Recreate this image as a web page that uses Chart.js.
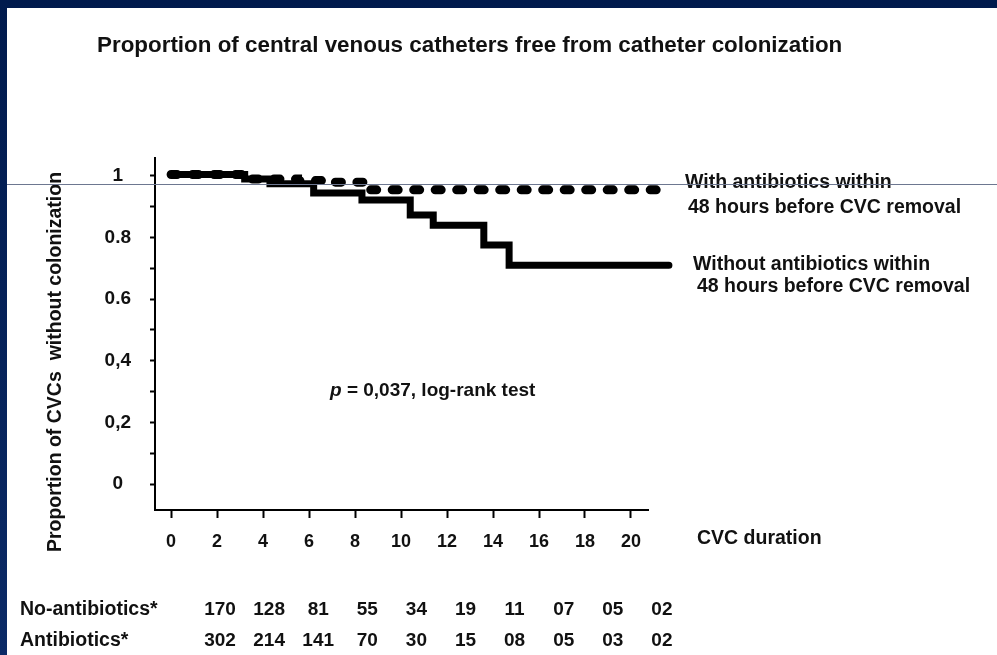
<!DOCTYPE html>
<html>
<head>
<meta charset="utf-8">
<script src="https://cdn.jsdelivr.net/npm/chart.js@4.4.1/dist/chart.umd.min.js"></script>
<style>
  html, body { margin: 0; padding: 0; }
  body { width: 997px; height: 655px; position: relative; overflow: hidden;
         background: linear-gradient(to bottom, #001a4d, #0b2a66); }
  #panel { position: absolute; left: 7px; top: 8px; right: 0; bottom: 0; background: #fff; }
  #guide { position: absolute; left: 7px; top: 184px; width: 990px; height: 1px; background: #6d7790; }
  #c { position: absolute; left: 0; top: 0; }
</style>
</head>
<body>
<div id="panel"></div>
<canvas id="c" width="997" height="655"></canvas>
<div id="guide"></div>
<script>
// Kaplan-Meier steps (days, proportion free of colonization)
const noAbxDays = [0, 3.2, 4.3, 6.2, 8.3, 10.4, 11.4, 13.6, 14.7, 21.65];
const noAbxSurv = [1.005, 0.99, 0.975, 0.945, 0.922, 0.873, 0.84, 0.776, 0.71, 0.71];
const abxDays = [0, 3.3, 5.5, 7.0, 8.5, 21.65];
const abxSurv = [1.005, 0.99, 0.985, 0.98, 0.955, 0.955];

const xTickValues = [0, 2, 4, 6, 8, 10, 12, 14, 16, 18, 20];
const yTickValues = [0, 0.1, 0.2, 0.3, 0.4, 0.5, 0.6, 0.7, 0.8, 0.9, 1];
const yTickLabels = ['0', '', '0,2', '', '0,4', '', '0.6', '', '0.8', '', '1'];

// numbers at risk
const riskRows = ['No-antibiotics*', 'Antibiotics*'];
const riskNoAbx = ['170', '128', '81', '55', '34', '19', '11', '07', '05', '02'];
const riskAbx = ['302', '214', '141', '70', '30', '15', '08', '05', '03', '02'];

const FONT = '"Liberation Sans", Arial, Helvetica, sans-serif';

const toPoints = (xs, ys) => xs.map((x, i) => ({ x: x, y: ys[i] }));

const textPlugin = {
    id: 'texts',
    afterDraw(chart) {
        const ctx = chart.ctx;
        ctx.save();
        ctx.fillStyle = '#111';
        ctx.textBaseline = 'alphabetic';

        // title
        ctx.font = 'bold 22.4px ' + FONT;
        ctx.textAlign = 'left';
        ctx.fillText('Proportion of central venous catheters free from catheter colonization', 97, 52);

        // curve labels
        ctx.font = 'bold 19.5px ' + FONT;
        ctx.fillText('With antibiotics within', 685, 188);
        ctx.fillText('48 hours before CVC removal', 688, 213);
        ctx.fillText('Without antibiotics within', 693, 270);
        ctx.fillText('48 hours before CVC removal', 697, 292);

        // x axis name
        ctx.fillText('CVC duration', 697, 544);

        // p value
        ctx.font = 'italic bold 19px ' + FONT;
        ctx.fillText('p', 330, 396);
        const pw = ctx.measureText('p').width;
        ctx.font = 'bold 19px ' + FONT;
        ctx.fillText(' = 0,037, log-rank test', 330 + pw, 396);

        // y axis name
        ctx.save();
        ctx.font = 'bold 19.5px ' + FONT;
        ctx.translate(61, 362);
        ctx.rotate(-Math.PI / 2);
        ctx.textAlign = 'center';
        ctx.fillText('Proportion of CVCs  without colonization', 0, 0);
        ctx.restore();

        // numbers at risk table
        ctx.font = 'bold 19.5px ' + FONT;
        ctx.textAlign = 'left';
        ctx.fillText(riskRows[0], 20, 615);
        ctx.fillText(riskRows[1], 20, 646);
        ctx.font = 'bold 19px ' + FONT;
        ctx.textAlign = 'center';
        riskNoAbx.forEach((v, i) => ctx.fillText(v, 220 + 49.1 * i, 615));
        riskAbx.forEach((v, i) => ctx.fillText(v, 220 + 49.1 * i, 646));
        ctx.restore();
    }
};

const ctx = document.getElementById('c').getContext('2d');
new Chart(ctx, {
    type: 'line',
    data: {
        datasets: [
            {
                label: 'With antibiotics within 48 hours before CVC removal',
                data: toPoints(abxDays, abxSurv),
                stepped: 'before',
                borderColor: '#000',
                borderWidth: 9,
                borderDash: [6, 15.5],
                borderCapStyle: 'round',
                pointRadius: 0,
                fill: false,
                clip: false
            },
            {
                label: 'Without antibiotics within 48 hours before CVC removal',
                data: toPoints(noAbxDays, noAbxSurv),
                stepped: 'before',
                borderColor: '#000',
                borderWidth: 7,
                borderCapStyle: 'round',
                pointRadius: 0,
                fill: false,
                clip: false
            }
        ]
    },
    options: {
        responsive: false,
        animation: false,
        layout: { padding: { top: 158, right: 349, bottom: 0, left: 0 } },
        plugins: { legend: { display: false }, tooltip: { enabled: false }, title: { display: false } },
        scales: {
            x: {
                type: 'linear',
                min: -0.7,
                max: 20.74,
                afterBuildTicks: (scale) => { scale.ticks = xTickValues.map(v => ({ value: v })); },
                afterFit: (scale) => { scale.height = 145; },
                grid: { drawOnChartArea: false, drawTicks: true, tickLength: 8, tickWidth: 2, tickColor: '#000' },
                border: { display: true, color: '#000', width: 2 },
                ticks: {
                    autoSkip: false,
                    maxRotation: 0,
                    padding: 13,
                    color: '#111',
                    font: { family: FONT, size: 18, weight: 'bold' }
                }
            },
            y: {
                type: 'linear',
                min: -0.0844,
                max: 1.0584,
                afterBuildTicks: (scale) => { scale.ticks = yTickValues.map(v => ({ value: v })); },
                afterFit: (scale) => { scale.width = 155; },
                grid: { drawOnChartArea: false, drawTicks: true, tickLength: 5, tickWidth: 2, tickColor: '#000' },
                border: { display: true, color: '#000', width: 2 },
                ticks: {
                    crossAlign: 'center',
                    padding: 19,
                    color: '#111',
                    font: { family: FONT, size: 19, weight: 'bold' },
                    callback: (value, index) => yTickLabels[index]
                }
            }
        }
    },
    plugins: [textPlugin]
});
</script>
</body>
</html>
